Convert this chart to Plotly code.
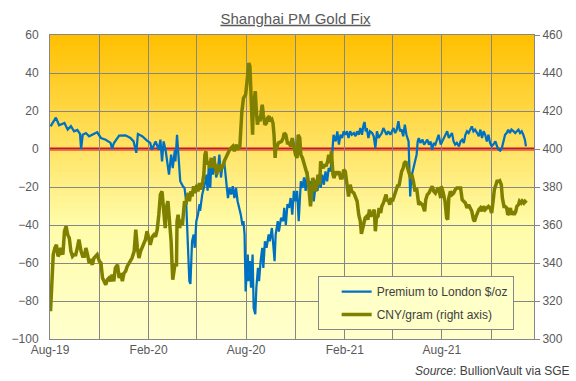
import pandas as pd
import plotly.graph_objects as go

# ---------------- data ----------------
start_date = "2019-08-01"

# Premium to London ($/oz): days after start_date, value
prem_days = [1,5,11,17,27,33,39,45,51,56,58,61,67,73,82,88,95,104,113,116,119,122,129,141,150,156,161,164,172,181,187,190,197,203,206,209,212,216,219,222,
             226,229,233,234,237,240,243,248,251,254,257,260,262,265,268,270,273,276,279,280,284,286,290,292,294,296,299,301,304,307,310,313,316,319,321,325,327,330,332,335,338,341,344,347,350,353,356,359,361,363,364,365,369,370,373,375,378,380,383,385,388,390,393,396,398,401,404,408,410,414,419,421,425,427,431,435,437,
             440,443,446,449,452,455,458,461,464,468,471,474,477,480,483,486,489,492,495,499,502,505,508,511,514,517,520,523,526,529,533,536,539,542,545,548,551,554,557,560,563,567,570,573,576,579,582,585,587,589,591,594,597,601,604,607,610,613,616,619,622,625,628,631,635,638,641,644,647,650,653,656,659,662,665,669,670,671,672,674,678,681,684,686,688,
             691,695,698,701,704,707,710,713,716,719,722,725,729,732,735,738,741,744,747,750,753,756,759,763,766,769,772,775,778,781,784,787,790,793,797,800,803,806,809,812,815,818,821,824,827,831,834,837,840,843,846,849,852,855,858,861,865,868,871,874,877,880,883,886,888]
prem_vals = [11.9,13.7,16.5,12.5,13.7,10.2,12,9.3,10,8,0,7.5,8.4,6.7,7.9,8.8,5.8,4.9,3.2,0,3,4.4,7,7.2,5.8,4,-2,7.9,6.7,4.4,3.2,-0.4,4,-0.4,4.9,-6.5,4,-1.2,-6.5,-13.5,
             -3,-10,-0.4,-6.5,7.5,-8,-17,-19.6,-20.5,-27.5,-45,-69.6,-71,-48.6,-45,-52,-38,-34.6,-29,-32.5,-24,-22,-17,-13.5,-22,-10,-20.5,-6.5,-13.5,-3.9,-15,-11.8,-3,-15,-10,-6.5,-13.5,-20.5,-25.8,-20.5,-24,-19.6,-25.8,-20.5,-27.5,-31,-34.6,-40,-38,-45,-59,-75,-55.6,-69.6,-59,-73,-55.6,-83.7,-87,-73,-62.6,-69.6,-59,-52,-62.6,-48.6,-52,-45,-48.6,-41.6,-59,-45,-38,-43.5,-36.3,-38,-31,
             -40,-29,-31,-25.8,-34.6,-22,-27.5,-22,-38,-17,-20.5,-15,-22,-11.8,-18.8,-17,-20.5,-27.5,-20.5,-22,-15,-20.5,-13.5,-18.8,-11.8,-17,-10,-11.8,-4.7,7.5,4,9.3,2.3,7.5,5.8,9.3,7.5,9.3,5.8,9.3,7.5,8.4,6.7,9.3,7.5,11,7.5,12.8,14.2,9.3,11,5.8,9.3,8.4,6.7,0.5,9.3,5.8,7.5,8.4,11,9.3,7.5,9.3,7.5,9.3,11,8.4,10.2,14.6,9.3,10.2,6.7,12.8,7.5,4,-3,-13.5,-25,-15,-10,-6.5,-3,4,5.8,
             3.2,4.9,2.3,4,4.9,2.3,4,-0.4,3.2,2.3,4.9,7.5,2.3,4,5.8,7.5,9.3,5.8,7.5,8.4,4,2.3,3.2,1.4,4,4.9,3.2,7.5,9.3,8.4,10.2,11.9,9.3,10.2,8.4,6.7,10.2,5.8,9.3,7.5,4,7.5,3.2,1.4,2.3,4,1.4,-0.4,-0.9,0.5,4,7.5,8.4,10.2,8.4,10.2,9.3,8.4,9.3,10.2,8.4,9.3,7.5,4.9,1.4]

# CNY per gram (right axis): days after start_date, value
cny_days = [1,4,6,9,12,15,17,20,24,27,30,33,36,39,42,45,48,51,54,58,61,64,67,70,73,76,79,82,85,88,92,95,98,101,104,107,110,113,116,119,122,126,129,132,135,138,141,144,147,150,153,157,160,163,166,169,172,175,178,181,184,187,191,194,197,200,203,206,209,212,215,
            217,220,223,226,228,229,233,236,237,239,242,244,247,249,251,254,255,258,260,263,265,268,271,274,276,279,282,285,287,289,291,293,296,297,301,304,305,309,311,313,316,319,322,325,328,331,335,338,341,344,347,350,352,354,356,358,361,363,365,367,369,371,373,375,377,378,379,381,383,385,387,390,392,395,396,398,401,404,406,409,411,414,416,418,420,421,423,426,429,432,435,437,
            440,443,446,449,452,455,458,461,463,466,468,471,474,477,480,483,486,488,490,493,495,498,500,503,505,508,510,513,515,518,520,523,525,528,530,533,536,539,542,545,548,551,554,557,560,563,567,570,573,576,579,581,583,586,588,591,593,596,598,601,603,605,607,609,612,614,617,619,622,624,627,629,631,634,636,639,641,644,646,649,651,654,656,659,661,664,666,669,672,675,678,681,684,686,688,
            691,695,698,699,701,704,707,710,713,716,719,722,725,729,730,733,737,740,742,744,747,750,753,756,759,763,766,769,772,775,778,781,784,787,790,792,795,797,800,803,806,809,812,815,818,821,824,827,829,832,834,837,839,842,844,847,849,852,854,857,859,861,864,866,869,871,874,876,879,881,884,886,889]
cny_vals = [314.6,333.9,344.4,347.9,349.6,343.5,344.4,347.9,344.4,356.7,359.3,354.9,353.2,346.1,343.5,344.4,344.4,347.9,352.3,346.1,343.5,343.5,347.9,344.4,340,341,339.1,342.6,343.5,344.4,341,340,332.1,330.4,328.6,331.2,332.1,330.4,333.9,330.4,337.4,339.1,332.1,334.7,330.4,334.7,335.6,338.2,340,341,342.6,346.1,357.5,347.9,342.6,346.1,347.9,349.6,352.3,356.7,352.3,349.6,353.9,354.9,353.9,357.5,365.4,376,377.7,369,358.4,
            369,372.5,361.9,351.4,337.4,331.2,339.1,339.1,361.9,365.4,358.4,362.8,360,369,372.5,370.7,374.2,376.8,372.5,377.7,375,380.4,376.8,381.2,377.7,382.1,378.6,383,386.5,397,398.8,391.8,393.5,390,395.3,390,395.3,390,386.5,391.8,388.2,390.9,390,393.5,395.3,397.9,399.6,400.5,401.4,398.8,402.3,399.6,401.4,400.5,411,419.8,426.8,427.7,428.6,433.9,442.6,445.3,443.5,430.4,414.6,407.5,419.8,428.6,430.4,419.8,412.8,417.2,414.6,421.6,423.3,418,412.8,413.7,416.3,417.2,414.6,415.5,413.7,407.5,395.3,399.6,400.5,403.2,403.7,404,405.8,408.4,
            407.5,403.2,403.2,401.4,405.8,400.5,397,395.3,407.5,405.8,397,395.3,392.6,390,386.5,379.5,369.8,375.6,384.7,383,377.7,381.2,386.5,381.2,393.5,390.9,390,391.8,390.9,393.5,397,392.6,398.8,386.5,384.7,388.2,386.5,388.2,384.7,384.7,389.1,388.2,381.2,375,381.2,377.7,376.8,374.2,372.5,365.4,361.9,355.3,358.4,361.9,363.7,364.6,362.8,368.1,364.6,365.4,367.2,368.1,356.7,363.7,364.6,369,366.3,369.8,371.6,374.2,376,372.5,373.3,370.7,374.2,372.5,374.2,377.7,379.5,381.2,380.4,384.7,388.2,390,392.6,393.5,390.9,388.2,385.6,386.5,383,377.7,379.5,372.5,370.7,
            371.6,370.7,368.1,367.2,373.3,376,376.8,378.6,380.4,377.7,376.8,378.6,379.5,374.2,380.4,377.7,372.5,363.7,362.8,374.2,377.7,376,376.8,378.6,379.5,379.5,379.5,373.3,372.5,371.6,369,370.7,369,367.2,362.8,361.9,364.6,366.3,368.1,369,367.2,369.8,368.1,369,369.8,369,366.3,373.3,378.6,381.2,383,383,383.3,381.2,374.2,369.8,369.8,369,365.4,366.3,369,365.4,367.2,365.4,367.2,369.8,370.7,372.5,371.6,372.6,371.6,372.5,371.6]

x_range = ["2019-08-01", "2022-01-20"]
left_range = [-100, 60]
right_range = [300, 460]

base = pd.Timestamp(start_date)
prem_dates = base + pd.to_timedelta(prem_days, unit="D")
cny_dates = base + pd.to_timedelta(cny_days, unit="D")

# ---------------- figure ----------------
FONT = "Liberation Sans, Arial, sans-serif"
GRID = "#868686"
TXT = "#595959"

fig = go.Figure()
fig.add_trace(go.Scatter(x=prem_dates, y=prem_vals, mode="lines",
                         name="Premium to London $/oz", legendgroup="a",
                         line=dict(color="#0070C0", width=2.25)))
fig.add_trace(go.Scatter(x=cny_dates, y=cny_vals, mode="lines",
                         name="CNY/gram (right axis)", legendgroup="b",
                         line=dict(color="#808000", width=3.5), yaxis="y2"))

# gradient plot background (orange at top -> pale yellow at bottom)
stops = [(0.0, (255, 192, 0)), (0.22, (255, 212, 60)), (0.48, (255, 238, 130)),
         (0.62, (255, 252, 168)), (1.0, (255, 255, 206))]
def col_at(t):
    for (t0, c0), (t1, c1) in zip(stops[:-1], stops[1:]):
        if t0 <= t <= t1:
            f = (t - t0) / (t1 - t0)
            return "rgb(%d,%d,%d)" % tuple(round(a + (b - a) * f) for a, b in zip(c0, c1))
    return "rgb(%d,%d,%d)" % stops[-1][1]

N = 100
shapes = []
for i in range(N):
    t = (i + 0.5) / N
    y1 = 1 - i / N
    y0 = max(0, 1 - (i + 1) / N - 0.004)
    shapes.append(dict(type="rect", xref="paper", yref="paper", x0=0, x1=1, y0=y0, y1=y1,
                       fillcolor=col_at(t), line=dict(width=0), layer="below"))
# zero line
shapes.append(dict(type="line", xref="paper", yref="y", x0=0, x1=1, y0=0, y1=0,
                   line=dict(color="#FF0000", width=3), layer="between"))

fig.update_layout(
    width=576, height=381,
    margin=dict(l=48, r=42, t=35, b=42),
    paper_bgcolor="white", plot_bgcolor="rgba(0,0,0,0)",
    font=dict(family=FONT, size=12, color=TXT),
    shapes=shapes,
    title=dict(text="<u>Shanghai PM Gold Fix</u>", x=0.513, xanchor="center",
               y=1 - 18.5 / 381, yanchor="middle", font=dict(size=15, color=TXT)),
    showlegend=True,
    legend=dict(x=0.553, y=0.207, xanchor="left", yanchor="top",
                bgcolor="#FFFFC8", bordercolor=GRID, borderwidth=1,
                font=dict(size=12, color="#404040"), tracegroupgap=4,
                itemwidth=30, indentation=18),
    xaxis=dict(type="date", range=x_range, dtick="M6", tick0=start_date,
               tickformat="%b-%y", showgrid=True, gridcolor=GRID, gridwidth=1,
               minor=dict(dtick="M3", tick0=start_date, showgrid=True,
                          gridcolor=GRID, gridwidth=1),
               showline=True, linecolor=GRID, mirror=True, zeroline=False,
               ticks="", tickfont=dict(size=12, color=TXT)),
    yaxis=dict(range=left_range, dtick=20, showgrid=True, gridcolor=GRID,
               gridwidth=1, zeroline=False, showline=True, linecolor=GRID,
               mirror=True, ticks="", ticklabelstandoff=8,
               tickfont=dict(size=12, color=TXT)),
    yaxis2=dict(range=right_range, dtick=20, overlaying="y", side="right",
                showgrid=False, zeroline=False, showline=True, linecolor=GRID,
                ticks="outside", ticklen=5, tickcolor=GRID,
                tickfont=dict(size=12, color=TXT)),
    annotations=[dict(text="<i>Source</i>: BullionVault via SGE", xref="paper",
                      yref="paper", x=(572 - 48) / 486, y=(339 - 371) / 304,
                      xanchor="right", yanchor="middle", showarrow=False,
                      font=dict(size=12, color="#404040"))],
)

fig.write_html("out.html", config={"displayModeBar": False},
               post_script="document.body.style.margin='0px';document.body.style.overflow='hidden';")
